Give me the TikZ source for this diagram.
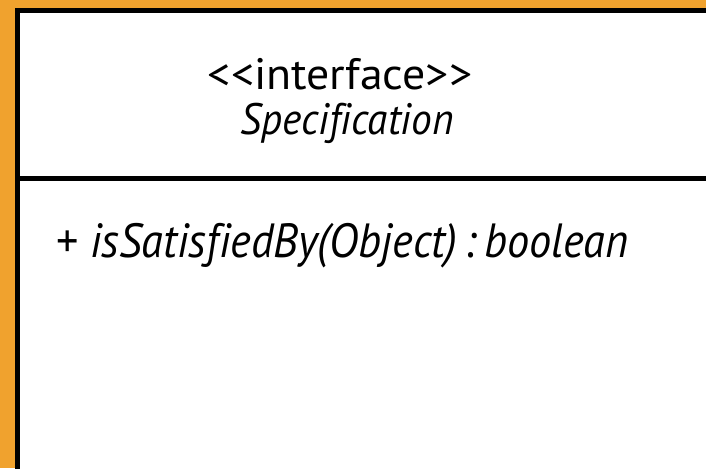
\documentclass[tikz,border=0pt]{standalone}
\usepackage{fontspec}
\setmainfont[Ligatures={NoCommon}]{PT Sans}
\definecolor{bgorange}{HTML}{F0A22E}
\begin{document}
\begin{tikzpicture}[x=1pt,y=-1pt,
  umlline/.style={line width=5.5pt, draw=black},
  header/.style={font=\fontsize{44}{48}\selectfont, inner sep=0pt, anchor=base},
  member/.style={font=\fontsize{48}{52}\selectfont, inner sep=0pt, anchor=base west}]
  % page background
  \fill[bgorange] (0,0) rectangle (706,468);
  \useasboundingbox (0,0) rectangle (706,468);
  % class box, running past the right and bottom edges
  \coordinate (tl) at (17.5,10.3);
  \coordinate (br) at (740,500);
  \filldraw[fill=white, umlline] (tl) rectangle (br);
  % compartment divider
  \coordinate (divL) at (17.5,178.5);
  \coordinate (divR) at (740,178.5);
  \draw[umlline] (divL) -- (divR);
  % name compartment
  \node[header] (stereo) at (340,90) {\scalebox{1.04}[1]{<\kern1pt<interface>\kern1pt>}};
  \node[header, font=\fontsize{44}{48}\selectfont\itshape] (name) at (347,135) {\scalebox{0.94}[1]{Specification}};
  % operations compartment
  \node[member] (op) at (56,257) {\scalebox{0.924}[1]{+ \textit{isSatisfiedBy(Object)\,:\,boolean}}};
\end{tikzpicture}
\end{document}
